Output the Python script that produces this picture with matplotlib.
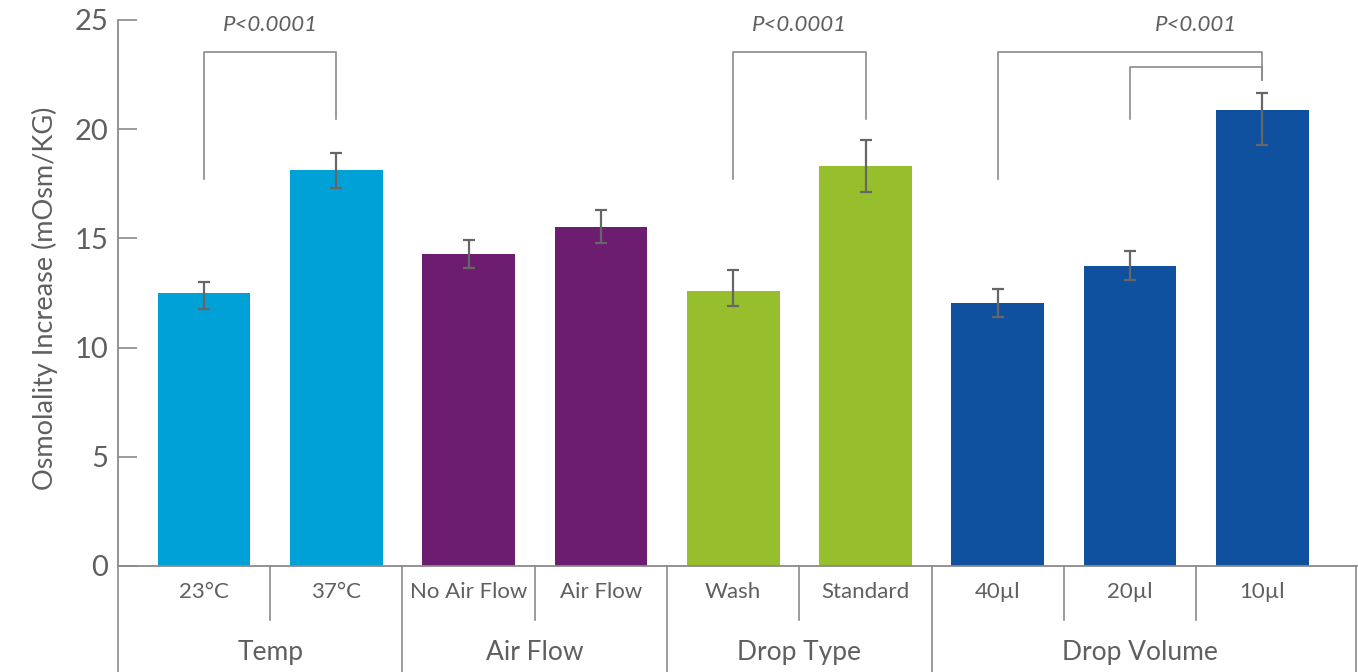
import matplotlib
matplotlib.use("Agg")
import matplotlib.pyplot as plt
import numpy as np

categories = ["23°C", "37°C", "No Air Flow", "Air Flow", "Wash", "Standard", "40µl", "20µl", "10µl"]
groups = ["Temp", "Air Flow", "Drop Type", "Drop Volume"]
group_sizes = [2, 2, 2, 3]
values = [12.5, 18.13, 14.29, 15.52, 12.59, 18.32, 12.04, 13.74, 20.88]
err_low = [11.77, 17.3, 13.64, 14.79, 11.9, 17.12, 11.4, 13.1, 19.28]
err_high = [13.0, 18.9, 14.93, 16.3, 13.55, 19.5, 12.68, 14.42, 21.66]
group_colors = ["#00A1D6", "#6C1D6F", "#97BE2D", "#0F519E"]
yticks = [0, 5, 10, 15, 20, 25]

plt.rcParams['font.family'] = ['Lato', 'DejaVu Sans']
TXT = "#5f5f5f"
LINE = "#8a8a8a"

fig = plt.figure(figsize=(13.58, 6.72), dpi=100)
ax = fig.add_axes([118/1358, (672-566)/672, (1357-118)/1358, (566-20)/672])

XMIN, XMAX = -0.65, 8.715
x = np.arange(len(categories))
colors = []
for c, n in zip(group_colors, group_sizes):
    colors += [c] * n
vals = np.array(values)
yerr = np.array([vals - np.array(err_low), np.array(err_high) - vals])
ax.bar(x, vals, width=0.70, color=colors, zorder=2)
ax.errorbar(x, vals, yerr=yerr, fmt='none', ecolor="#666666", elinewidth=1.6,
            capsize=4.5, capthick=1.6, zorder=3)

ax.set_xlim(XMIN, XMAX)
ax.set_ylim(0, 25)
ax.set_yticks(yticks)
ax.set_yticklabels([str(t) for t in yticks], fontsize=21, color=TXT)
ax.tick_params(axis='y', direction='in', length=14, width=1.2, color=LINE, pad=7)
ax.set_xticks([])
for s in ['top', 'right']:
    ax.spines[s].set_visible(False)
for s in ['left', 'bottom']:
    ax.spines[s].set_color(LINE)
    ax.spines[s].set_linewidth(1.3)
ax.set_ylabel("Osmolality Increase (mOsm/KG)", fontsize=19.5, color=TXT)
ax.yaxis.set_label_coords(-(118 - 58) / (1357 - 118), (566 - 298) / 546)

# category labels and separators
for i, lab in enumerate(categories):
    ax.text(i, -1.19, lab, ha='center', va='center', fontsize=16, color=TXT, clip_on=False)
start = 0
bounds = [XMIN]
for gi, (g, n) in enumerate(zip(groups, group_sizes)):
    for k in range(1, n):
        xb = start + k - 0.5
        ax.plot([xb, xb], [0, -2.47], color=LINE, lw=1.2, clip_on=False)
    if gi == len(groups) - 1:
        mid = (start - 0.5 + XMAX) / 2 - 0.03
    else:
        mid = start + (n - 1) / 2
    ax.text(mid, -3.98, g, ha='center', va='center', fontsize=19, color=TXT, clip_on=False)
    start += n
    if gi < len(groups) - 1:
        bounds.append(start - 0.5)
bounds.append(XMAX - 0.005)
for xb in bounds:
    ax.plot([xb, xb], [0, -4.9], color=LINE, lw=1.2, clip_on=False)

# significance brackets
def bracket(x1, y1, x2, y2, top):
    ax.plot([x1, x1, x2, x2], [y1, top, top, y2], color=LINE, lw=1.2, clip_on=False, zorder=1)

bracket(0, 17.72, 1, 20.47, 23.53)
ax.text(0.5, 24.75, "P<0.0001", ha='center', va='center', fontsize=16, style='italic', color=TXT)
bracket(4, 17.72, 5, 20.47, 23.53)
ax.text(4.5, 24.75, "P<0.0001", ha='center', va='center', fontsize=16, style='italic', color=TXT)
bracket(6, 17.72, 8, 22.25, 23.53)
bracket(7, 20.47, 8, 22.25, 22.85)
ax.text(7.5, 24.75, "P<0.001", ha='center', va='center', fontsize=16, style='italic', color=TXT)

fig.savefig("out.png", dpi=100)
